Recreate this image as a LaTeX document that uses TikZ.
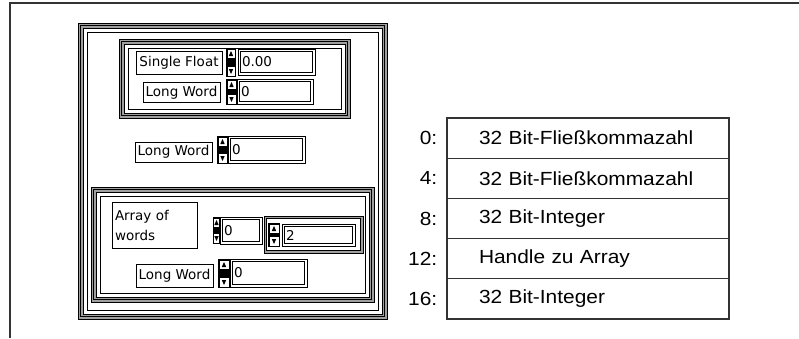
\documentclass[tikz,border=0pt]{standalone}
\usepackage{fontspec}
\setmainfont{Liberation Sans}
\newfontfamily\lvfont{DejaVu Sans}
\newfontfamily\tabfont[FakeStretch=1.1]{Liberation Sans}
\usetikzlibrary{positioning, calc}
\definecolor{lvgrey}{HTML}{A0A0A0}
\definecolor{cline}{HTML}{333333}
\tikzset{
  every picture/.style={x=1pt, y=-1pt},
  frameline/.style={draw=cline, line width=1.5pt},
  lvlabel/.style={draw, line width=0.9pt, inner sep=1.5pt, align=left, font=\lvfont\fontsize{13.5}{15}\selectfont},
  lvnum/.style={draw, line width=0.8pt, inner xsep=4pt, inner ysep=0pt, align=left, font=\lvfont\fontsize{13.5}{15}\selectfont,
    path picture={
      \draw[line width=0.7pt] ($(path picture bounding box.north west)+(2.2,2.2)$) rectangle ($(path picture bounding box.south east)+(-2.2,-2.2)$);
    }},
  spin/.style={fill=black, inner sep=0pt,
    path picture={
      \fill[white] ($(path picture bounding box.north west)+(1.5,1.5)$) rectangle ($(path picture bounding box.north east)+(-1.5,10)$);
      \fill[white] ($(path picture bounding box.south west)+(1.5,-1.5)$) rectangle ($(path picture bounding box.south east)+(-1.5,-10)$);
      \fill[black] ($(path picture bounding box.north)+(0,3)$) -- ++(-2.2,5) -- ++(4.4,0) -- cycle;
      \fill[black] ($(path picture bounding box.south)+(0,-3)$) -- ++(-2.2,-5) -- ++(4.4,0) -- cycle;
    }},
  cell/.style={draw=cline, line width=1.1pt, minimum width=282pt, minimum height=40.2pt, text width=218pt, inner xsep=32pt, inner ysep=0pt, align=left, font=\tabfont\fontsize{19}{22}\selectfont},
  offset/.style={inner sep=0pt, font=\tabfont\fontsize{19}{22}\selectfont},
}
% grey banded frame of a LabVIEW cluster
\newcommand{\clusterframe}[4]{%
  \filldraw[fill=lvgrey, line width=0.9pt] (#1,#2) rectangle (#3,#4);
  \draw[line width=0.9pt] (#1+2.5,#2+2.5) rectangle (#3-2.5,#4-2.5);
  \filldraw[fill=white, line width=0.9pt] (#1+5,#2+5) rectangle (#3-5,#4-5);
  \draw[line width=0.9pt] (#1+9,#2+9) rectangle (#3-9,#4-9);
}
\begin{document}
\begin{tikzpicture}
  \useasboundingbox (0,0) rectangle (799,338);
  \draw[frameline] (10,338) -- (10,3) -- (799,3);
  % front panel
  \clusterframe{78}{23}{387}{319}
  \clusterframe{119}{39}{350}{118}
  \node[lvlabel, minimum width=86pt, minimum height=23pt] (sflabel) at (179,62.5) {Single Float};
  \node[spin, minimum width=10pt, minimum height=29pt] (sfspin) at (231,62.5) {};
  \node[lvnum, text width=69pt, minimum height=26pt] (sfnum) at (276.5,62) {0.00};
  \node[lvlabel, minimum width=77pt, minimum height=20pt] (lwlabela) at (181.5,92.5) {Long Word};
  \node[spin, minimum width=11pt, minimum height=26pt] (lwspina) at (231.5,92) {};
  \node[lvnum, text width=68pt, minimum height=25pt] (lwnuma) at (275,91.5) {0};
  \node[lvlabel, minimum width=77pt, minimum height=20pt] (lwlabelb) at (173.5,152) {Long Word};
  \node[spin, minimum width=11pt, minimum height=28pt] (lwspinb) at (222.5,150) {};
  \node[lvnum, text width=69pt, minimum height=27pt] (lwnumb) at (266.5,149.5) {0};
  % array cluster
  \clusterframe{91}{187}{374}{302}
  \node[lvlabel, text width=79pt, minimum height=46pt, inner xsep=3pt, font=\lvfont\fontsize{13.5}{20}\selectfont] (arrlabel) at (154.5,225) {Array of\\words};
  \node[spin, minimum width=8pt, minimum height=27pt] (idxspin) at (216.5,230.5) {};
  \node[lvnum, text width=34pt, minimum height=27pt] (idxnum) at (241,230.5) {0};
  \filldraw[fill=lvgrey, line width=0.9pt] (264,216) rectangle (363,253);
  \filldraw[fill=white, line width=0.9pt] (266.5,218.5) rectangle (360.5,250.5);
  \node[spin, minimum width=12pt, minimum height=24pt] (elspin) at (274,235) {};
  \node[lvnum, text width=65pt, minimum height=22pt] (elnum) at (318.5,235) {2};
  \node[lvlabel, minimum width=77pt, minimum height=23pt] (lwlabelc) at (174.5,275.5) {Long Word};
  \node[spin, minimum width=12pt, minimum height=29pt] (lwspinc) at (224,273.5) {};
  \node[lvnum, text width=69pt, minimum height=28pt] (lwnumc) at (268.5,273) {0};
  % memory layout
  \foreach \i/\off/\txt in {0/0/{32 Bit-Fließkommazahl}, 1/4/{32 Bit-Fließkommazahl}, 2/8/{32 Bit-Integer}, 3/12/{Handle zu Array}, 4/16/{32 Bit-Integer}} {
    \node[cell] (row\i) at (588,138.1+40.2*\i) {\txt};
    \node[offset, left=9pt of row\i] (off\i) {\off:};
  }
\end{tikzpicture}
\end{document}
